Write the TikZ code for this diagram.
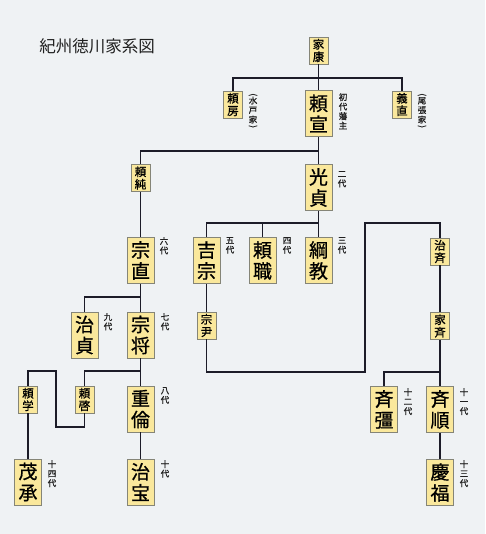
\documentclass[tikz,border=0pt]{standalone}
\usepackage{fontspec}
\usepackage{graphicx}
\newfontfamily\cjk{Noto Sans CJK JP}
\newfontfamily\cjkb[FakeBold=0.8]{Noto Sans CJK JP}
\definecolor{bgc}{HTML}{EFF2F4}
\definecolor{boxfill}{HTML}{FAE89C}
\definecolor{boxline}{HTML}{858577}
\definecolor{linec}{HTML}{1C1C28}
\definecolor{txtc}{HTML}{202020}
\newcommand{\vpl}{\rotatebox[origin=c]{-90}{(}}
\newcommand{\vpr}{\rotatebox[origin=c]{-90}{)}}
\tikzset{
  bigbox/.style={draw=boxline, fill=boxfill, line width=0.8pt, minimum width=27pt, minimum height=46pt, inner sep=0pt, align=center, text=black, font=\cjkb\fontsize{19}{21}\selectfont},
  smallbox/.style={draw=boxline, fill=boxfill, line width=0.8pt, minimum width=19pt, minimum height=27pt, inner sep=0pt, align=center, text=black, font=\cjkb\fontsize{11.5}{12.5}\selectfont},
  gen/.style={anchor=north, inner sep=0pt, align=center, text=txtc, font=\cjkb\fontsize{8.5}{9.5}\selectfont},
  conn/.style={draw=linec, line width=1.6pt}
}
\begin{document}
\begin{tikzpicture}[x=1pt,y=-1pt]
\fill[bgc] (0,0) rectangle (485,534);
\useasboundingbox (0,0) rectangle (485,534);
\node[text=txtc, font=\cjk\fontsize{16.5}{18}\selectfont, inner sep=0pt] (title) at (97,46.5) {紀州徳川家系図};

% coordinates
\coordinate (j1) at (318.5,78);
\coordinate (j2) at (318.5,151);
\coordinate (j3) at (318.5,223);
\coordinate (j4) at (140.5,297);
\coordinate (j5) at (140.5,371);
\coordinate (j6) at (440,372);
\coordinate (k2) at (56,427);
\coordinate (k3) at (56,371);
\coordinate (m1) at (365,372);
\coordinate (m2) at (365,223);

% nodes
\node[smallbox] (ieyasu) at (318.5,50.5) {家\\康};
\node[smallbox] (yorifusa) at (233,104.5) {頼\\房};
\node[bigbox] (yorinobu) at (318.5,113.5) {頼\\宣};
\node[smallbox] (yoshinao) at (402,104.5) {義\\直};
\node[smallbox] (yorizumi) at (140.5,178) {頼\\純};
\node[bigbox] (mitsusada) at (318.5,187.5) {光\\貞};
\node[bigbox] (munenao) at (140.5,260.5) {宗\\直};
\node[bigbox] (yoshimune) at (206.5,260.5) {吉\\宗};
\node[bigbox] (yorimoto) at (262.5,260.5) {頼\\職};
\node[bigbox] (tsunanori) at (318.5,260.5) {綱\\教};
\node[smallbox] (harutomo) at (440,251.5) {治\\斉};
\node[bigbox] (harusada) at (84.5,335) {治\\貞};
\node[bigbox] (munenobu) at (140.5,335) {宗\\将};
\node[smallbox] (munetada) at (206.5,325.5) {宗\\尹};
\node[smallbox] (ienari) at (440,326) {家\\斉};
\node[smallbox] (yorisato) at (28,399.5) {頼\\学};
\node[smallbox] (yoriyoshi) at (84.5,399.5) {頼\\啓};
\node[bigbox] (shigenori) at (140.5,409) {重\\倫};
\node[bigbox] (narikatsu) at (384,409.5) {斉\\彊};
\node[bigbox] (nariyuki) at (440,409.5) {斉\\順};
\node[bigbox] (mochitsugu) at (28,482) {茂\\承};
\node[bigbox] (harutomi) at (140.5,482) {治\\宝};
\node[bigbox] (yoshitomi) at (440,482.5) {慶\\福};

% connectors
\begin{scope}[conn]
\draw (ieyasu.south) -- (yorinobu.north);
\draw (yorifusa.north) |- (j1) -| (yoshinao.north);
\draw (yorinobu.south) -- (mitsusada.north);
\draw (j2) -| (yorizumi.north);
\draw (yorizumi.south) -- (munenao.north);
\draw (mitsusada.south) -- (tsunanori.north);
\draw (j3) -| (yoshimune.north);
\draw (yorimoto.north) -- (yorimoto.north |- j3);
\draw (munenao.south) -- (munenobu.north);
\draw (j4) -| (harusada.north);
\draw (munenobu.south) -- (shigenori.north);
\draw (j5) -| (yoriyoshi.north);
\draw (yoriyoshi.south) |- (k2) -- (k3) -| (yorisato.north);
\draw (yorisato.south) -- (mochitsugu.north);
\draw (shigenori.south) -- (harutomi.north);
\draw (yoshimune.south) -- (munetada.north);
\draw (munetada.south) |- (m1) -- (m2) -| (harutomo.north);
\draw (harutomo.south) -- (ienari.north);
\draw (ienari.south) -- (nariyuki.north);
\draw (j6) -| (narikatsu.north);
\draw (nariyuki.south) -- (yoshitomi.north);
\end{scope}

% generation labels
\node[gen] (g1) at (343,93) {初\\代\\藩\\主};
\node[gen] (mito) at (253,93) {\vpl\\[-3pt]水\\戸\\家\\[-3pt]\vpr};
\node[gen] (owari) at (422,93) {\vpl\\[-3pt]尾\\張\\家\\[-3pt]\vpr};
\node[gen] (g2) at (342,171) {二\\代};
\node[gen] (g6) at (164,237) {六\\代};
\node[gen] (g5) at (230,237) {五\\代};
\node[gen] (g4) at (287,237) {四\\代};
\node[gen] (g3) at (342,237) {三\\代};
\node[gen] (g9) at (108,313) {九\\代};
\node[gen] (g7) at (165,313) {七\\代};
\node[gen] (g8) at (165,387) {八\\代};
\node[gen] (g10) at (165,460) {十\\代};
\node[gen] (g14) at (52,460) {十\\四\\代};
\node[gen] (g12) at (408,388) {十\\二\\代};
\node[gen] (g11) at (464,388) {十\\一\\代};
\node[gen] (g13) at (464,460) {十\\三\\代};
\end{tikzpicture}
\end{document}
